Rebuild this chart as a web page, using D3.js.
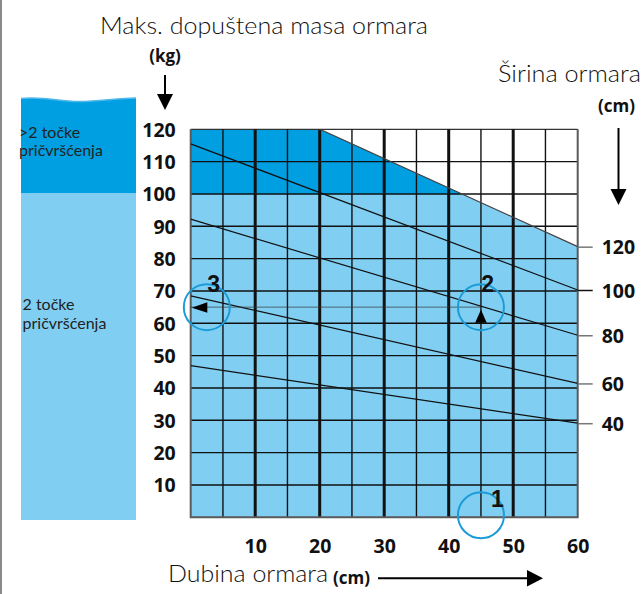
<!DOCTYPE html>
<html>
<head>
<meta charset="utf-8">
<script src="https://cdn.jsdelivr.net/npm/d3@7"></script>
<style>
  body { margin: 0; background: #fff; }
  svg { display: block; }
  .tick text { font-family: "Open Sans", "Liberation Sans", sans-serif; font-weight: bold; }
</style>
</head>
<body>
<svg id="chart" width="643" height="594"></svg>
<script>
// values
const depthTicks = [10, 20, 30, 40, 50, 60];
const massTicks = [10, 20, 30, 40, 50, 60, 70, 80, 90, 100, 110, 120];
const gridDepths = [5, 10, 15, 20, 25, 30, 35, 40, 45, 50, 55];
const widths = [40, 60, 80, 100, 120];
const massAtDepth0 = [46.9, 68.5, 92.2, 115.5, 138.2];
const massAtDepth60 = [29.1, 41.4, 56.3, 70.3, 83.7];
const markerLabels = ["1", "2", "3"];
const markerDepth = [45, 45, 2.5];
const markerMass = [0, 65, 65];

const darkBlue = "#009fe1", lightBlue = "#80cff3", ringBlue = "#1b9bd7";

const svg = d3.select("#chart");
const x = d3.scaleLinear().domain([0, 60]).range([190.7, 577.7]);
const y = d3.scaleLinear().domain([0, 120]).range([517.3, 129.3]);

// left page border
svg.append("line").attr("x1", 1).attr("x2", 1).attr("y1", 0).attr("y2", 594)
   .attr("stroke", "#8a8a8a").attr("stroke-width", 2);

// clip paths
const defs = svg.append("defs");
defs.append("clipPath").attr("id", "plot").append("rect")
    .attr("x", x(0)).attr("y", y(120)).attr("width", x(60) - x(0)).attr("height", y(0) - y(120));
defs.append("clipPath").attr("id", "top").append("rect")
    .attr("x", x(0)).attr("y", y(120)).attr("width", x(60) - x(0)).attr("height", y(100) - y(120));

const i120 = widths.indexOf(120);
const area = [[0, 0], [60, 0], [60, massAtDepth60[i120]], [0, massAtDepth0[i120]]];
const poly = d3.line().x(d => x(d[0])).y(d => y(d[1]));
svg.append("path").attr("d", poly(area) + "Z").attr("fill", lightBlue).attr("clip-path", "url(#plot)");
svg.append("path").attr("d", poly(area) + "Z").attr("fill", darkBlue).attr("clip-path", "url(#top)");

// horizontal grid
svg.append("g").selectAll("line").data(massTicks.filter(d => d < 120)).join("line")
   .attr("x1", x(0)).attr("x2", x(60)).attr("y1", d => y(d)).attr("y2", d => y(d))
   .attr("stroke", "#111").attr("stroke-width", 1.4);
svg.append("line").attr("x1", x(0)).attr("x2", x(60)).attr("y1", y(120)).attr("y2", y(120))
   .attr("stroke", "#333").attr("stroke-width", 1.2);

// vertical grid
svg.append("g").selectAll("line").data(gridDepths).join("line")
   .attr("x1", d => x(d)).attr("x2", d => x(d)).attr("y1", y(0)).attr("y2", y(120))
   .attr("stroke", "#111").attr("stroke-width", d => d % 10 === 0 ? 3 : 1.4);

// frame
svg.append("path")
   .attr("d", `M${x(0)},${y(120)}V${y(0)}H${x(60)}V${y(120)}`)
   .attr("fill", "none").attr("stroke", "#5a5a5a").attr("stroke-width", 2);

// width lines
svg.append("g").attr("clip-path", "url(#plot)").selectAll("line").data(widths).join("line")
   .attr("x1", x(0)).attr("x2", x(60))
   .attr("y1", (d, i) => y(massAtDepth0[i])).attr("y2", (d, i) => y(massAtDepth60[i]))
   .attr("stroke", (d) => d === 120 ? "#444" : "#111").attr("stroke-width", 1.2);

// reference line for reading
svg.append("line").attr("x1", x(0)).attr("x2", x(45)).attr("y1", y(65)).attr("y2", y(65))
   .attr("stroke", "#333").attr("stroke-width", 0.7);

// axes
const yAxis = svg.append("g").attr("transform", `translate(${x(0) - 15},0)`)
   .call(d3.axisLeft(y).tickValues(massTicks).tickSize(0).tickPadding(0));
yAxis.select(".domain").remove();
yAxis.selectAll("text").attr("font-size", 19.5).attr("fill", "#111").attr("dy", "0.36em");

const xAxis = svg.append("g").attr("transform", `translate(0,${y(0) + 22})`)
   .call(d3.axisBottom(x).tickValues(depthTicks).tickSize(0).tickPadding(0));
xAxis.select(".domain").remove();
xAxis.selectAll("text").attr("font-size", 19.5).attr("fill", "#111").attr("dy", "0.72em");

const rAxis = svg.append("g").attr("transform", `translate(${x(60)},0)`)
   .call(d3.axisRight(y).tickValues(massAtDepth60).tickSize(15).tickPadding(9)
     .tickFormat((d, i) => widths[i]));
rAxis.select(".domain").remove();
rAxis.selectAll("line").attr("stroke", d => d === massAtDepth60[widths.indexOf(100)] ? "#111" : "#777").attr("stroke-width", 1.5);
rAxis.selectAll("text").attr("font-size", 19.5).attr("fill", "#111").attr("dy", "0.36em");

// markers
const mk = svg.append("g").selectAll("g").data(markerLabels).join("g")
   .attr("transform", (d, i) => `translate(${x(markerDepth[i])},${y(markerMass[i]) - (i === 0 ? 2 : 0)})`);
mk.append("circle").attr("r", 23).attr("fill", "none").attr("stroke", ringBlue).attr("stroke-width", 2);
mk.append("text").text(d => d)
   .attr("x", (d, i) => i === 0 ? 16.5 : 6.8)
   .attr("y", (d, i) => i === 0 ? -8.5 : -15)
   .attr("text-anchor", "middle")
   .attr("font-family", "'Liberation Sans Narrow', 'Liberation Sans', sans-serif")
   .attr("font-weight", "bold").attr("font-size", 23).attr("fill", "#111");
mk.filter((d, i) => i === 1).append("path").attr("d", "M0,2.5L5.8,15.5L-5.8,15.5Z").attr("fill", "#000");
mk.filter((d, i) => i === 2).append("path").attr("d", "M-15,0.5L0.5,-5L0.5,5.5Z").attr("fill", "#000");

// legend block
svg.append("rect").attr("x", 21).attr("y", 193.3).attr("width", 115).attr("height", 326.7).attr("fill", lightBlue);
svg.append("path")
   .attr("d", "M21,193.3V98.5C45,96 60,102 80,101.5C100,101 120,98 136,98V193.3Z")
   .attr("fill", darkBlue);
svg.append("path")
   .attr("d", "M21,98.5C45,96 60,102 80,101.5C100,101 120,98 136,98")
   .attr("fill", "none").attr("stroke", "#4fb8ea").attr("stroke-width", 1.5);

const legendFont = "Lato, 'Noto Sans', sans-serif";
const leg = [[">2 točke", 19, 137.5], ["pričvršćenja", 19, 156], ["2 točke", 22.5, 310], ["pričvršćenja", 22.5, 328.5]];
svg.append("g").selectAll("text").data(leg).join("text")
   .attr("x", d => d[1]).attr("y", d => d[2]).text(d => d[0])
   .attr("font-family", legendFont).attr("font-size", 16).attr("fill", "#222");

// titles
function title(txt, x0, y0, len) {
  svg.append("text").attr("x", x0).attr("y", y0).text(txt)
     .attr("font-family", legendFont).attr("font-weight", 300).attr("font-size", 23)
     .attr("textLength", len).attr("lengthAdjust", "spacingAndGlyphs").attr("fill", "#111");
}
function unit(txt, x0, y0, anchor) {
  svg.append("text").attr("x", x0).attr("y", y0).attr("text-anchor", anchor).text(txt)
     .attr("font-family", "'Open Sans', sans-serif").attr("font-weight", "bold").attr("font-size", 17).attr("fill", "#111");
}
title("Maks. dopuštena masa ormara", 100, 33.5, 328);
title("Širina ormara", 498, 82, 143);
title("Dubina ormara", 168, 582, 160);
unit("(kg)", 165, 62, "middle");
unit("(cm)", 635, 111.5, "end");
unit("(cm)", 333, 584, "start");

// arrows
function arrowDown(cx, y1, y2) {
  svg.append("line").attr("x1", cx).attr("x2", cx).attr("y1", y1).attr("y2", y2 - 14)
     .attr("stroke", "#000").attr("stroke-width", 2);
  svg.append("path").attr("d", `M${cx - 8},${y2 - 16}L${cx + 8},${y2 - 16}L${cx},${y2}Z`).attr("fill", "#000");
}
arrowDown(165, 75, 110);
arrowDown(618.5, 128, 205);
svg.append("line").attr("x1", 378).attr("x2", 530).attr("y1", 578.3).attr("y2", 578.3)
   .attr("stroke", "#000").attr("stroke-width", 2);
svg.append("path").attr("d", "M527,570L543,578.3L527,586.6Z").attr("fill", "#000");
</script>
</body>
</html>
